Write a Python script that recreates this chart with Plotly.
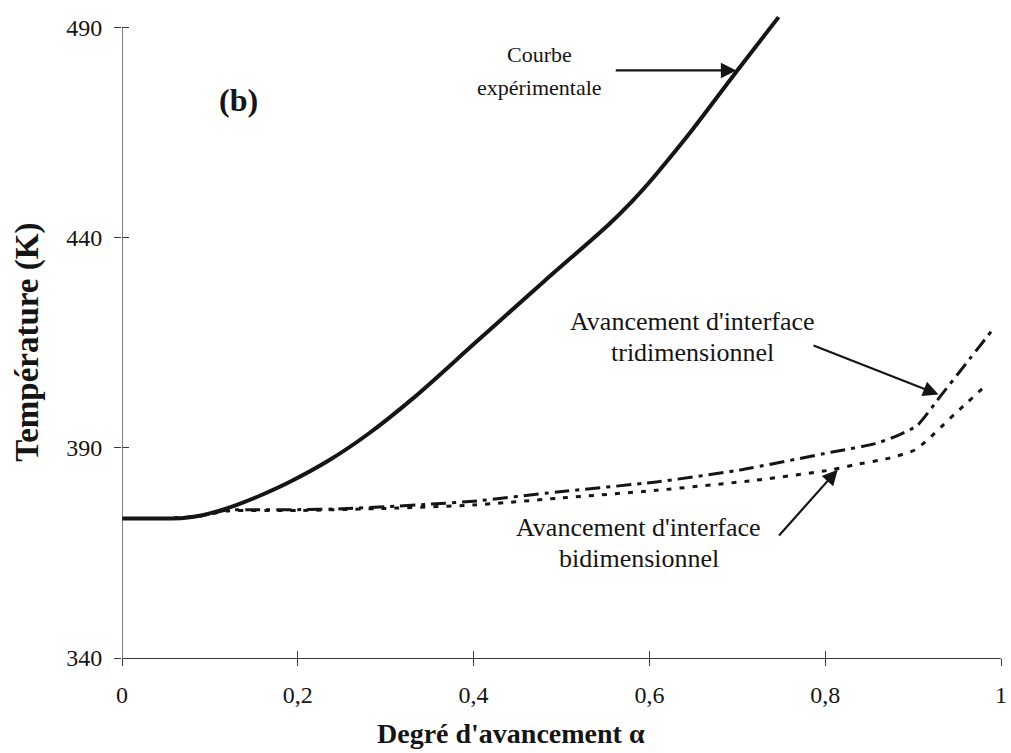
import plotly.graph_objects as go

# Degree of advancement (alpha) and temperature (K) for each curve
alpha_exp = [0, 0.04, 0.07, 0.09, 0.11, 0.13, 0.16, 0.19, 0.236, 0.28, 0.33,
             0.405, 0.48, 0.555, 0.58, 0.60, 0.62, 0.65, 0.70, 0.747]
temp_exp = [373.2, 373.2, 373.3, 373.9, 375.0, 376.4, 378.9, 381.8, 387.1, 393.3, 401.6,
            415.6, 429.6, 443.4, 448.6, 453.2, 458.2, 466.0, 479.8, 492.5]

alpha_tri = [0, 0.05, 0.09, 0.12, 0.15, 0.2, 0.25, 0.3, 0.35, 0.4, 0.495, 0.608,
             0.702, 0.808, 0.857, 0.883, 0.905, 0.93, 0.96, 0.99]
temp_tri = [373.2, 373.2, 373.8, 375.2, 375.3, 375.3, 375.5, 376.0, 376.6, 377.3, 379.5, 381.9,
            384.7, 389.0, 391.0, 393.0, 395.4, 402.0, 410.0, 418.0]

alpha_bi = [0, 0.05, 0.09, 0.12, 0.2, 0.3, 0.4, 0.495, 0.608, 0.721, 0.808, 0.834,
            0.872, 0.902, 0.917, 0.932, 0.947, 0.959, 0.985]
temp_bi = [373.2, 373.2, 373.8, 375.0, 375.1, 375.6, 376.4, 378.0, 379.9, 382.3, 384.8, 386.0,
           387.5, 389.5, 392.0, 395.0, 398.0, 400.3, 405.3]

x_tickvals = [0, 0.2, 0.4, 0.6, 0.8, 1]
x_ticktext = ["0", "0,2", "0,4", "0,6", "0,8", "1"]
y_tickvals = [340, 390, 440, 490]
y_ticktext = ["340", "390", "440", "490"]

SERIF = "Liberation Serif, Times New Roman, serif"
INK = "#151515"
AXIS = "#3a3a3a"

fig = go.Figure()

fig.add_trace(go.Scatter(x=alpha_tri, y=temp_tri, mode="lines",
                         line=dict(color=INK, width=3, dash="15px,6px,4px,6px",
                                   shape="spline", smoothing=0.6),
                         hoverinfo="skip", showlegend=False))
fig.add_trace(go.Scatter(x=alpha_bi, y=temp_bi, mode="lines",
                         line=dict(color=INK, width=3, dash="5px,8px",
                                   shape="spline", smoothing=0.6),
                         hoverinfo="skip", showlegend=False))
fig.add_trace(go.Scatter(x=alpha_exp, y=temp_exp, mode="lines",
                         line=dict(color=INK, width=4, shape="spline", smoothing=1.0),
                         hoverinfo="skip", showlegend=False))
# empty trace carrying the overlay axes used for the inner half of each tick
fig.add_trace(go.Scatter(x=[], y=[], xaxis="x2", yaxis="y2", hoverinfo="skip",
                         showlegend=False))

y_range = [340, 493]
tick_font = dict(family=SERIF, size=24, color=INK)

fig.update_layout(
    width=1011, height=753,
    margin=dict(l=122, r=4, t=15, b=95),
    paper_bgcolor="white", plot_bgcolor="white",
    xaxis=dict(range=[0, 1], tickvals=x_tickvals, ticktext=x_ticktext,
               showgrid=False, zeroline=False, showline=True, linecolor=AXIS,
               linewidth=1.3, ticks="outside", ticklen=7, tickwidth=1.3,
               tickcolor=AXIS, tickfont=tick_font, ticklabelstandoff=8,
               ticklabeloverflow="allow"),
    yaxis=dict(range=y_range, tickvals=y_tickvals, ticktext=y_ticktext,
               showgrid=False, zeroline=False, showline=False,
               ticks="outside", ticklen=7, tickwidth=1.3, tickcolor=AXIS,
               tickfont=tick_font, ticklabelstandoff=7),
    xaxis2=dict(overlaying="x", anchor="y2", range=[0, 1], tickvals=x_tickvals,
                showticklabels=False, showgrid=False, zeroline=False,
                showline=False, ticks="inside", ticklen=7, tickwidth=1.3,
                tickcolor=AXIS),
    yaxis2=dict(overlaying="y", anchor="x2", range=y_range, tickvals=y_tickvals,
                showticklabels=False, showgrid=False, zeroline=False,
                showline=False, ticks="inside", ticklen=7, tickwidth=1.3,
                tickcolor=AXIS),
)

# vertical axis line stops at the top tick
fig.add_shape(type="line", xref="x", yref="y", x0=0, x1=0, y0=340, y1=490,
              line=dict(color=AXIS, width=1.3))

text_font = dict(family=SERIF, size=26, color=INK)
small_font = dict(family=SERIF, size=22, color=INK)

annotations = [
    # axis titles
    dict(text="<b>Degré d'avancement α</b>", xref="x", yref="paper", x=0.442, y=0,
         yshift=-75, yanchor="middle", showarrow=False,
         font=dict(family=SERIF, size=28, color=INK)),
    dict(text="<b>Température (K)</b>", xref="paper", yref="y", x=0, y=415,
         xshift=-94, xanchor="center", yanchor="middle", textangle=-90,
         showarrow=False, font=dict(family=SERIF, size=33, color=INK)),
    # panel tag
    dict(text="<b>(b)</b>", xref="x", yref="y", x=0.133, y=472.8, showarrow=False,
         font=dict(family=SERIF, size=32, color=INK)),
    # curve labels
    dict(text="Courbe", xref="x", yref="y", x=0.475, y=483.5, showarrow=False,
         font=small_font),
    dict(text="expérimentale", xref="x", yref="y", x=0.475, y=475.7, showarrow=False,
         font=small_font),
    dict(text="Avancement d'interface", xref="x", yref="y", x=0.649, y=420.0,
         showarrow=False, font=text_font),
    dict(text="tridimensionnel", xref="x", yref="y", x=0.649, y=412.6,
         showarrow=False, font=text_font),
    dict(text="Avancement d'interface", xref="x", yref="y", x=0.588, y=371.1,
         showarrow=False, font=text_font),
    dict(text="bidimensionnel", xref="x", yref="y", x=0.588, y=363.7,
         showarrow=False, font=text_font),
    # arrows pointing at the curves
    dict(text="", xref="x", yref="y", axref="x", ayref="y",
         x=0.70, y=479.8, ax=0.56, ay=479.8, showarrow=True,
         arrowhead=2, arrowsize=1.4, arrowwidth=2.2, arrowcolor=INK, standoff=1),
    dict(text="", xref="x", yref="y", axref="x", ayref="y",
         x=0.93, y=402.6, ax=0.785, ay=414.5, showarrow=True,
         arrowhead=2, arrowsize=1.4, arrowwidth=2.2, arrowcolor=INK, standoff=1),
    dict(text="", xref="x", yref="y", axref="x", ayref="y",
         x=0.815, y=385.0, ax=0.746, ay=368.8, showarrow=True,
         arrowhead=2, arrowsize=1.4, arrowwidth=2.2, arrowcolor=INK, standoff=1),
]
fig.update_layout(annotations=annotations)

fig.write_html("out.html")
